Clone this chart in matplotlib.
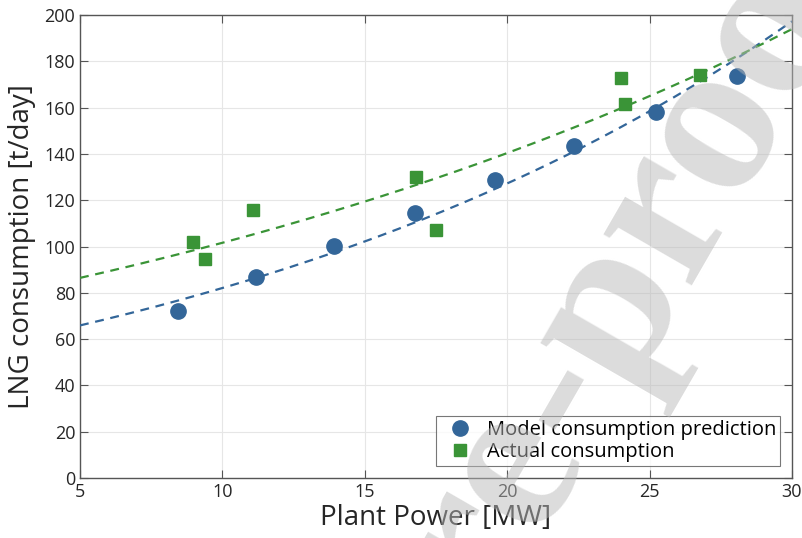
import numpy as np
import matplotlib
matplotlib.use("Agg")
import matplotlib.pyplot as plt

plt.rcParams["font.family"] = ["Open Sans", "DejaVu Sans"]

# model prediction points
model_power = [8.44, 11.18, 13.92, 16.76, 19.57, 22.35, 25.22, 28.07]
model_lng = [72.1, 86.8, 100.2, 114.5, 128.7, 143.4, 158.1, 173.7]

# measured points
actual_power = [8.97, 9.39, 11.07, 16.80, 17.50, 24.00, 24.14, 26.77]
actual_lng = [101.9, 94.6, 115.8, 130.0, 107.1, 172.8, 161.6, 174.1]

blue = "#336699"
green = "#3a9437"

fig = plt.figure(figsize=(8.02, 5.38), dpi=100)
ax = fig.add_axes([80 / 802, 1 - 478 / 538, 712 / 802, 463 / 538])

# exponential trend lines (linear fit of log values)
xs = np.linspace(5, 30, 200)
km, bm = np.polyfit(model_power, np.log(model_lng), 1)
ka, ba = np.polyfit(actual_power, np.log(actual_lng), 1)
ax.plot(xs, np.exp(bm + km * xs), "--", color=blue, lw=1.6, dashes=(4, 3), zorder=3)
ax.plot(xs, np.exp(ba + ka * xs), "--", color=green, lw=1.6, dashes=(4, 3), zorder=3)

ax.plot(model_power, model_lng, "o", color=blue, ms=11, ls="none",
        label="Model consumption prediction", zorder=4)
ax.plot(actual_power, actual_lng, "s", color=green, ms=8.5, ls="none",
        label="Actual consumption", zorder=4)

ax.set_xlim(5, 30)
ax.set_ylim(0, 200)
ax.set_xticks([5, 10, 15, 20, 25, 30])
ax.set_yticks(range(0, 201, 20))
ax.grid(True, color="#e6e6e6", lw=0.8)
ax.set_axisbelow(True)
for s in ax.spines.values():
    s.set_color("#555555")
    s.set_linewidth(1.0)
ax.tick_params(direction="in", length=6, width=0.8, colors="#555555",
               labelcolor="#262626", labelsize=13, top=True, right=True)
ax.set_xlabel("Plant Power [MW]", fontsize=20, color="#262626", labelpad=2)
ax.set_ylabel("LNG consumption [t/day]", fontsize=20, color="#262626", labelpad=6)

leg = ax.legend(loc="lower right", fontsize=14.5, frameon=True, fancybox=False,
                edgecolor="#555555", borderpad=0.2, handletextpad=0.3,
                labelspacing=0.1, borderaxespad=0.6)
leg.get_frame().set_linewidth(0.8)

# watermark, split at the hyphen so both parts share one anchor
wm = dict(fontsize=160, family="Liberation Serif", weight="bold", color="#b9b9b9",
          alpha=0.5, rotation=60, va="baseline", rotation_mode="anchor", zorder=10)
fig.text(626 / 802, 1 - 394 / 538, "Journal Pre-", ha="right", **wm)
fig.text(626 / 802, 1 - 394 / 538, "proof", ha="left", **wm)

fig.savefig("out.png", dpi=100)
